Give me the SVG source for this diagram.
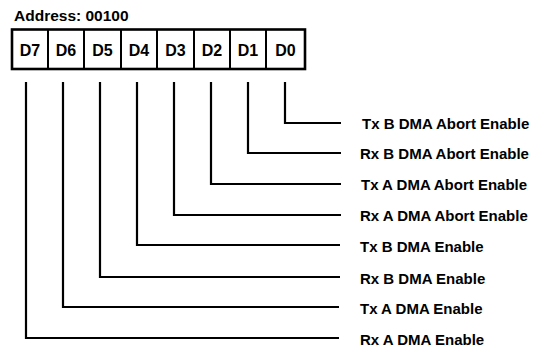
<svg xmlns="http://www.w3.org/2000/svg" width="541" height="355" viewBox="0 0 541 355">
<style>
text{font-family:"Liberation Sans",Arial,sans-serif;font-weight:bold;fill:#000}
.cell{font-size:16px;text-anchor:middle}
.lbl{font-size:15px}
.addr{font-size:15.5px}
.c{fill:none;stroke:#000;stroke-width:2.2}
</style>
<rect width="541" height="355" fill="#fff"/>
<g id="title"><text class="addr" x="14" y="21">Address: 00100</text></g>
<g id="register">
<rect x="12" y="29.5" width="293" height="39.5" fill="#fff" stroke="#000" stroke-width="2.6"/>
<path d="M48 29.5V69M84 29.5V69M121 29.5V69M157 29.5V69M194 29.5V69M230 29.5V69M266 29.5V69" stroke="#000" stroke-width="2"/>
</g>
<g id="D7"><text class="cell" x="30" y="55.5">D7</text></g>
<g id="D6"><text class="cell" x="66" y="55.5">D6</text></g>
<g id="D5"><text class="cell" x="102.5" y="55.5">D5</text></g>
<g id="D4"><text class="cell" x="139" y="55.5">D4</text></g>
<g id="D3"><text class="cell" x="175.5" y="55.5">D3</text></g>
<g id="D2"><text class="cell" x="212" y="55.5">D2</text></g>
<g id="D1"><text class="cell" x="248" y="55.5">D1</text></g>
<g id="D0"><text class="cell" x="285.5" y="55.5">D0</text></g>
<g id="connectors">
<path class="c" d="M285 82V123H341"/>
<path class="c" d="M248 82V153H341"/>
<path class="c" d="M211 82V184H341"/>
<path class="c" d="M174 82V215H341"/>
<path class="c" d="M137 82V245H340"/>
<path class="c" d="M100 82V277H340"/>
<path class="c" d="M63 82V307H339"/>
<path class="c" d="M26 82V338H339"/>
</g>
<g id="labels">
<text class="lbl" x="362" y="129">Tx B DMA Abort Enable</text>
<text class="lbl" x="360" y="159">Rx B DMA Abort Enable</text>
<text class="lbl" x="361" y="190">Tx A DMA Abort Enable</text>
<text class="lbl" x="360" y="221">Rx A DMA Abort Enable</text>
<text class="lbl" x="360" y="252">Tx B DMA Enable</text>
<text class="lbl" x="360" y="284">Rx B DMA Enable</text>
<text class="lbl" x="360" y="314">Tx A DMA Enable</text>
<text class="lbl" x="360" y="345">Rx A DMA Enable</text>
</g>
</svg>
